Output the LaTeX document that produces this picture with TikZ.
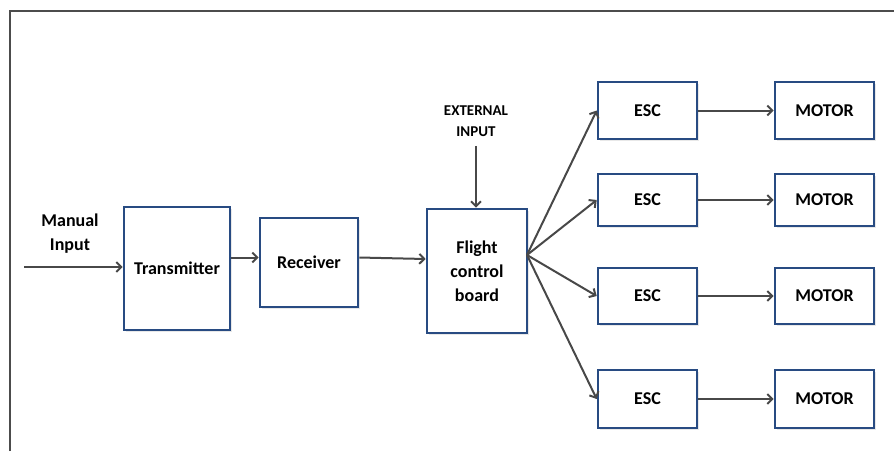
\documentclass[tikz,border=0pt]{standalone}
\usepackage{fontspec}
\setmainfont{Carlito}
\usepackage{xcolor}
\usepackage{tikz}
\usetikzlibrary{arrows.meta,positioning,shadows}
\definecolor{boxblue}{RGB}{40,75,130}
\definecolor{linegray}{RGB}{72,72,72}

\begin{document}
\begin{tikzpicture}[x=1pt,y=-1pt,
    blk/.style={draw=boxblue,line width=2.6pt,fill=white,inner sep=0pt,align=center,
      font=\fontsize{18}{24}\selectfont\bfseries,
      drop shadow={shadow xshift=1.5pt,shadow yshift=-1.5pt,opacity=.18}},
    sig/.style={draw=linegray,line width=2pt,-{Straight Barb[length=5pt,width=10pt]}}]
      \useasboundingbox (0,0) rectangle (894,451);
      \draw[line width=1.6pt,black!70] (10,451) -- (10,11) -- (894,11);
      \node[blk,minimum width=106pt,minimum height=123pt] (tx) at (177,268.5) {Transmitter};
      \node[blk,minimum width=98pt,minimum height=89pt] (rx) at (309,262.5) {Receiver};
      \node[blk,minimum width=100pt,minimum height=124pt] (fcb) at (477,271) {Flight\\control\\board};
      \node[font=\fontsize{18}{24}\selectfont\bfseries,align=center] (man) at (70,234) {Manual\\Input};
      \node[font=\fontsize{15}{21}\selectfont\bfseries,align=center] (ext) at (476,121) {EXTERNAL\\INPUT};
      \coordinate (in) at (24,267);
      \coordinate (fan) at (527,255);
      \draw[sig] (in) -- (in -| tx.west);
      \draw[sig] ([yshift=5pt]rx.west -| tx.east) -- ([yshift=5pt]rx.west);
      \draw[sig] ([yshift=5pt]rx.east) -- ([yshift=12pt]fcb.west);
      \draw[sig,shorten <=6pt] (ext.south) -- (fcb.north -| ext.south);
      \foreach \i/\y/\h in {1/110.5/57,2/200/52,3/296/56,4/399/58}{
        \node[blk,minimum width=99pt,minimum height=\h pt] (esc\i) at (647.5,\y) {ESC};
        \node[blk,minimum width=99pt,minimum height=\h pt] (mot\i) at (824.5,\y) {MOTOR};
        \draw[sig] (fan) -- (esc\i.west);
        \draw[sig] (esc\i) -- (mot\i);
      }
\end{tikzpicture}
\end{document}
